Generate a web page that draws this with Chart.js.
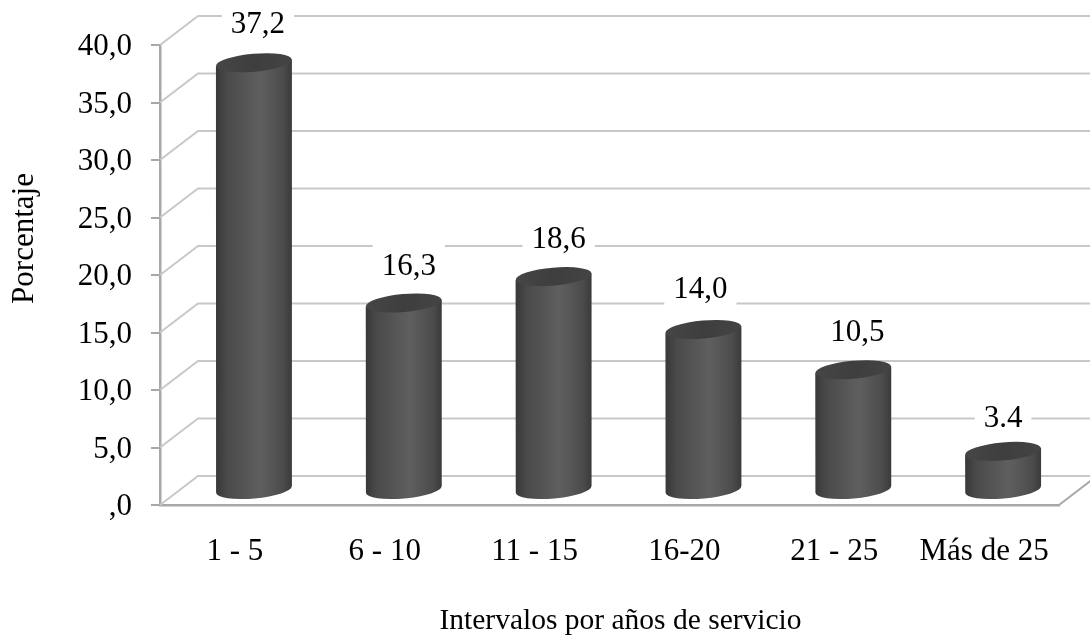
<!DOCTYPE html>
<html>
<head>
<meta charset="utf-8">
<style>
  html, body { margin: 0; padding: 0; background: #fff; }
  #wrap { width: 1090px; height: 636px; }
</style>
<script src="https://cdn.jsdelivr.net/npm/chart.js@4/dist/chart.umd.min.js"></script>
</head>
<body>
<div id="wrap"><canvas id="chart" width="1090" height="636"></canvas></div>
<script>
const categories  = ['1 - 5', '6 - 10', '11 - 15', '16-20', '21 - 25', 'Más de 25'];
const values      = [37.2, 16.3, 18.6, 14.0, 10.5, 3.4];
const valueLabels = ['37,2', '16,3', '18,6', '14,0', '10,5', '3.4'];
const yTickLabels = [',0', '5,0', '10,0', '15,0', '20,0', '25,0', '30,0', '35,0', '40,0'];
const xTitle = 'Intervalos por años de servicio';
const yTitle = 'Porcentaje';

const FONT = '"Liberation Serif", "Times New Roman", serif';
const DEPTH_X = 38, DEPTH_Y = 29;   // how far the back wall sits from the front axis

// hand placement of the value labels, relative to each cylinder's cap
const labelDx = [4, 5, 5, -3, 4, 0];
const labelDy = [-37.7, -36, -36.6, -39.5, -36.7, -32.4];

// ── Pseudo-3D walls: back gridlines and the floor edge ──
const wallPlugin = {
  id: 'wall',
  beforeDatasetsDraw(chart) {
    const { ctx, chartArea: area, scales: { y } } = chart;
    ctx.save();
    ctx.strokeStyle = '#c8c8c8';
    ctx.lineWidth = 2;
    y.ticks.forEach(t => {
      const py = y.getPixelForValue(t.value);
      ctx.beginPath();
      ctx.moveTo(area.left, py);
      ctx.lineTo(area.left + DEPTH_X, py - DEPTH_Y);
      ctx.lineTo(chart.width + 5, py - DEPTH_Y);
      ctx.stroke();
    });
    ctx.strokeStyle = '#a8a8a8';
    ctx.beginPath();
    ctx.moveTo(area.right, area.bottom);
    ctx.lineTo(area.right + DEPTH_X, area.bottom - DEPTH_Y);
    ctx.stroke();
    ctx.restore();
  },
};

// ── Cylinders and value labels, placed from the bar elements ──
const cylinderPlugin = {
  id: 'cylinder',
  afterDatasetsDraw(chart) {
    const { ctx } = chart;
    const bars = chart.getDatasetMeta(0).data;
    const tilt = -5 * Math.PI / 180;
    const ry = 9;

    // value labels first, on white plates that interrupt the gridlines
    bars.forEach((bar, i) => {
      ctx.save();
      ctx.font = '31px ' + FONT;
      ctx.textAlign = 'center';
      ctx.textBaseline = 'middle';
      const lx = bar.x + DEPTH_X / 2 + labelDx[i];
      const ly = bar.y - DEPTH_Y / 2 + labelDy[i];
      const w = ctx.measureText(valueLabels[i]).width + 18;
      ctx.fillStyle = '#fff';
      ctx.fillRect(lx - w / 2, ly - 23, w, 46);
      ctx.fillStyle = '#000';
      ctx.fillText(valueLabels[i], lx, ly);
      ctx.restore();
    });

    bars.forEach(bar => {
      const cx = bar.x + DEPTH_X / 2;
      const top = bar.y - DEPTH_Y / 2;
      const bottom = bar.base - DEPTH_Y / 2;
      const rx = bar.width / 2;
      const slope = Math.tan(tilt) * rx;

      const body = ctx.createLinearGradient(cx - rx, 0, cx + rx, 0);
      body.addColorStop(0,    '#383838');
      body.addColorStop(0.15, '#4a4a4a');
      body.addColorStop(0.58, '#5f5f5f');
      body.addColorStop(0.88, '#4c4c4c');
      body.addColorStop(1,    '#3a3a3a');

      ctx.save();
      ctx.fillStyle = body;
      ctx.beginPath();
      ctx.moveTo(cx - rx, top - slope);
      ctx.lineTo(cx + rx, top + slope);
      ctx.lineTo(cx + rx, bottom + slope);
      ctx.ellipse(cx, bottom, rx, ry, tilt, 0, Math.PI);
      ctx.closePath();
      ctx.fill();

      const cap = ctx.createLinearGradient(cx - rx, 0, cx + rx, 0);
      cap.addColorStop(0, '#464646');
      cap.addColorStop(0.5, '#3e3e3e');
      cap.addColorStop(1, '#444444');
      ctx.fillStyle = cap;
      ctx.beginPath();
      ctx.ellipse(cx, top, rx, ry, tilt, 0, Math.PI * 2);
      ctx.fill();
      ctx.restore();
    });
  },
  // axis titles sit off-centre in the original, so they are placed by hand
  afterDraw(chart) {
    const { ctx } = chart;
    ctx.save();
    ctx.fillStyle = '#000';
    ctx.textAlign = 'center';
    ctx.textBaseline = 'alphabetic';
    ctx.font = '29.5px ' + FONT;
    ctx.fillText(xTitle, 620.5, 629);
    ctx.font = '31px ' + FONT;
    ctx.translate(33, 238.5);
    ctx.rotate(-Math.PI / 2);
    ctx.fillText(yTitle, 0, 0);
    ctx.restore();
  },
};

new Chart(document.getElementById('chart'), {
  type: 'bar',
  data: {
    labels: categories,
    datasets: [{
      data: values,
      backgroundColor: 'transparent',
      barPercentage: 0.507,
      categoryPercentage: 1,
    }],
  },
  options: {
    responsive: false,
    animation: false,
    layout: { padding: { top: 45, right: 31, left: 0, bottom: 0 } },
    plugins: { legend: { display: false }, tooltip: { enabled: false } },
    scales: {
      x: {
        afterFit: s => { s.height = 131; },
        grid: { display: false },
        border: { display: true, color: '#a8a8a8', width: 2.5 },
        ticks: { color: '#000', font: { family: FONT, size: 31 }, padding: 20, maxRotation: 0, autoSkip: false },
      },
      y: {
        min: 0, max: 40,
        afterFit: s => { s.width = 160; },
        grid: { drawOnChartArea: false, drawTicks: true, tickLength: 9, color: '#a8a8a8', lineWidth: 2 },
        border: { display: true, color: '#a8a8a8', width: 2.5 },
        ticks: {
          stepSize: 5, color: '#000', font: { family: FONT, size: 31 }, padding: 19, labelOffset: 2,
          callback: (v, i) => yTickLabels[i],
        },
      },
    },
  },
  plugins: [wallPlugin, cylinderPlugin],
});
</script>
</body>
</html>
